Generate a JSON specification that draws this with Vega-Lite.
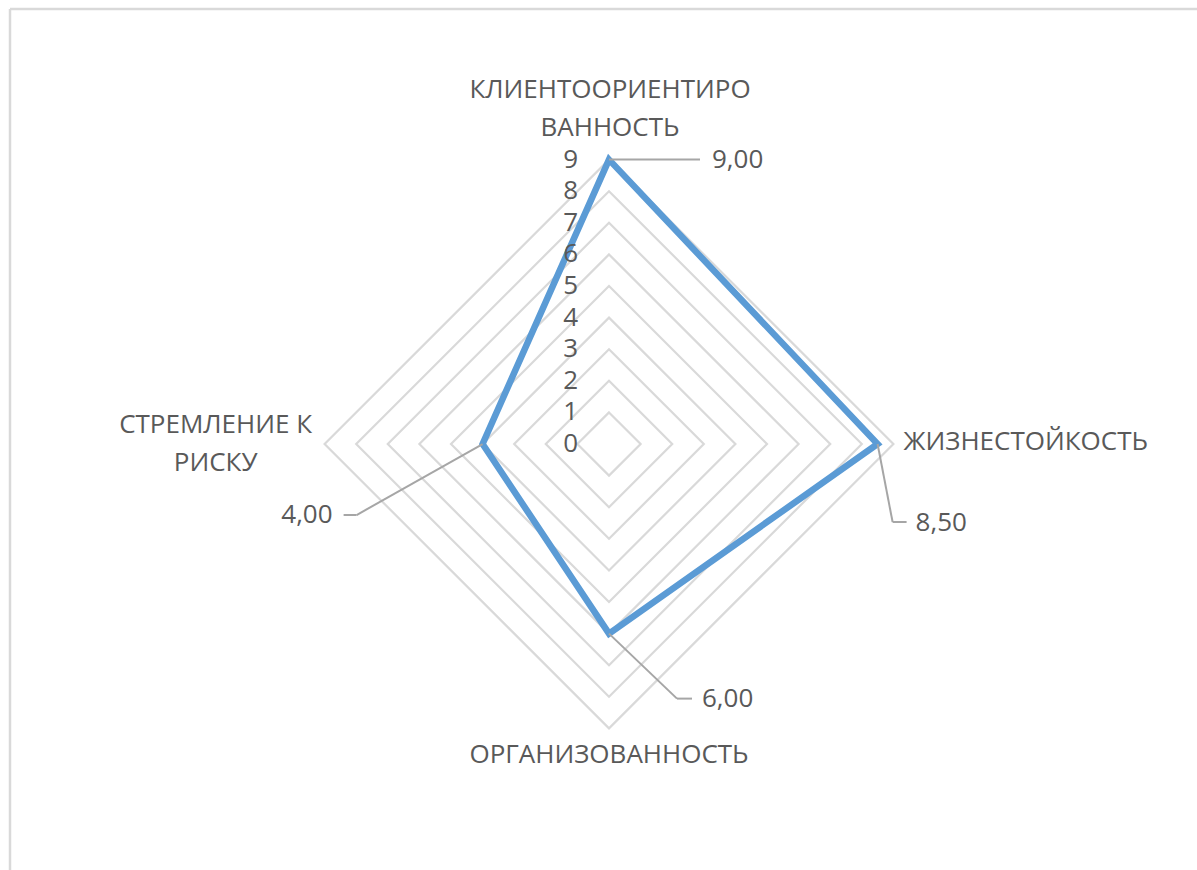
{
  "$schema": "https://vega.github.io/schema/vega-lite/v6.json",
  "width": 1187.5,
  "height": 861.5,
  "padding": {"left": 9.5, "top": 8.5, "right": 0, "bottom": 0},
  "autosize": {"type": "none"},
  "background": "white",
  "config": {
    "view": {"stroke": null},
    "text": {"font": "Open Sans", "fontSize": 26, "color": "#595959", "baseline": "middle"}
  },
  "datasets": {
    "scores": [
      {"cat": "КЛИЕНТООРИЕНТИРОВАННОСТЬ", "order": 0, "value": 9},
      {"cat": "ЖИЗНЕСТОЙКОСТЬ", "order": 1, "value": 8.5},
      {"cat": "ОРГАНИЗОВАННОСТЬ", "order": 2, "value": 6},
      {"cat": "СТРЕМЛЕНИЕ К РИСКУ", "order": 3, "value": 4}
    ],
    "grid": [
      {"level": 1, "k": 0}, {"level": 1, "k": 1}, {"level": 1, "k": 2}, {"level": 1, "k": 3},
      {"level": 2, "k": 0}, {"level": 2, "k": 1}, {"level": 2, "k": 2}, {"level": 2, "k": 3},
      {"level": 3, "k": 0}, {"level": 3, "k": 1}, {"level": 3, "k": 2}, {"level": 3, "k": 3},
      {"level": 4, "k": 0}, {"level": 4, "k": 1}, {"level": 4, "k": 2}, {"level": 4, "k": 3},
      {"level": 5, "k": 0}, {"level": 5, "k": 1}, {"level": 5, "k": 2}, {"level": 5, "k": 3},
      {"level": 6, "k": 0}, {"level": 6, "k": 1}, {"level": 6, "k": 2}, {"level": 6, "k": 3},
      {"level": 7, "k": 0}, {"level": 7, "k": 1}, {"level": 7, "k": 2}, {"level": 7, "k": 3},
      {"level": 8, "k": 0}, {"level": 8, "k": 1}, {"level": 8, "k": 2}, {"level": 8, "k": 3},
      {"level": 9, "k": 0}, {"level": 9, "k": 1}, {"level": 9, "k": 2}, {"level": 9, "k": 3}
    ],
    "ticks": [
      {"tick": 0}, {"tick": 1}, {"tick": 2}, {"tick": 3}, {"tick": 4},
      {"tick": 5}, {"tick": 6}, {"tick": 7}, {"tick": 8}, {"tick": 9}
    ]
  },
  "encoding": {
    "x": {
      "field": "px", "type": "quantitative",
      "scale": {"domain": [-18.972, 18.608], "nice": false, "zero": false},
      "axis": {"orient": "top", "title": null, "labels": false, "ticks": false, "grid": false, "domainColor": "#d9d9d9", "domainWidth": 2.5}
    },
    "y": {
      "field": "py", "type": "quantitative",
      "scale": {"domain": [-13.481, 13.782], "nice": false, "zero": false},
      "axis": {"orient": "left", "title": null, "labels": false, "ticks": false, "grid": false, "domainColor": "#d9d9d9", "domainWidth": 2.5}
    }
  },
  "layer": [
    {
      "data": {"name": "grid"},
      "transform": [
        {"calculate": "datum.k==1?datum.level:datum.k==3?-datum.level:0", "as": "px"},
        {"calculate": "datum.k==0?datum.level:datum.k==2?-datum.level:0", "as": "py"}
      ],
      "mark": {"type": "line", "interpolate": "linear-closed", "color": "#d9d9d9", "strokeWidth": 2.2},
      "encoding": {"detail": {"field": "level"}, "order": {"field": "k"}}
    },
    {
      "data": {"name": "scores"},
      "transform": [
        {"calculate": "datum.order==1?datum.value:datum.order==3?-datum.value:0", "as": "px"},
        {"calculate": "datum.order==0?datum.value:datum.order==2?-datum.value:0", "as": "py"}
      ],
      "mark": {"type": "line", "interpolate": "linear-closed", "color": "#5b9bd5", "strokeWidth": 6.5},
      "encoding": {"order": {"field": "order"}}
    },
    {
      "data": {"name": "ticks"},
      "transform": [
        {"calculate": "0", "as": "px"},
        {"calculate": "datum.tick", "as": "py"}
      ],
      "mark": {"type": "text", "align": "right", "dx": -31},
      "encoding": {"text": {"field": "tick"}}
    },
    {
      "data": {"name": "scores"},
      "transform": [
        {"filter": "datum.order==0"},
        {"calculate": "0", "as": "px"},
        {"calculate": "datum.value", "as": "py"},
        {"calculate": "replace(format(datum.value,'.2f'),'.',',')", "as": "lbl"}
      ],
      "layer": [
        {"mark": {"type": "rule", "color": "#a6a6a6", "strokeWidth": 2, "x2Offset": 91, "y2Offset": 0}, "encoding": {"x2": {"field": "px"}, "y2": {"field": "py"}}},
        {"mark": {"type": "text", "align": "left", "dx": 103, "dy": 0}, "encoding": {"text": {"field": "lbl"}}},
        {"mark": {"type": "text", "align": "center", "dx": 1, "dy": -70, "lineHeight": 38, "text": ["КЛИЕНТООРИЕНТИРО", "ВАННОСТЬ"]}}
      ]
    },
    {
      "data": {"name": "scores"},
      "transform": [
        {"filter": "datum.order==1"},
        {"calculate": "datum.value", "as": "px"},
        {"calculate": "0", "as": "py"},
        {"calculate": "replace(format(datum.value,'.2f'),'.',',')", "as": "lbl"}
      ],
      "layer": [
        {"mark": {"type": "rule", "color": "#a6a6a6", "strokeWidth": 2, "x2Offset": 15, "y2Offset": 78}, "encoding": {"x2": {"field": "px"}, "y2": {"field": "py"}}},
        {"mark": {"type": "rule", "color": "#a6a6a6", "strokeWidth": 2, "xOffset": 15, "yOffset": 78, "x2Offset": 29, "y2Offset": 78}, "encoding": {"x2": {"field": "px"}, "y2": {"field": "py"}}},
        {"mark": {"type": "text", "align": "left", "dx": 38, "dy": 79}, "encoding": {"text": {"field": "lbl"}}},
        {"mark": {"type": "text", "align": "left", "dx": 26, "dy": -2}, "encoding": {"text": {"field": "cat"}}}
      ]
    },
    {
      "data": {"name": "scores"},
      "transform": [
        {"filter": "datum.order==2"},
        {"calculate": "0", "as": "px"},
        {"calculate": "-datum.value", "as": "py"},
        {"calculate": "replace(format(datum.value,'.2f'),'.',',')", "as": "lbl"}
      ],
      "layer": [
        {"mark": {"type": "rule", "color": "#a6a6a6", "strokeWidth": 2, "x2Offset": 68, "y2Offset": 65}, "encoding": {"x2": {"field": "px"}, "y2": {"field": "py"}}},
        {"mark": {"type": "rule", "color": "#a6a6a6", "strokeWidth": 2, "xOffset": 68, "yOffset": 65, "x2Offset": 83, "y2Offset": 65}, "encoding": {"x2": {"field": "px"}, "y2": {"field": "py"}}},
        {"mark": {"type": "text", "align": "left", "dx": 93, "dy": 65}, "encoding": {"text": {"field": "lbl"}}},
        {"mark": {"type": "text", "align": "center", "dx": 0, "dy": 121}, "encoding": {"text": {"field": "cat"}}}
      ]
    },
    {
      "data": {"name": "scores"},
      "transform": [
        {"filter": "datum.order==3"},
        {"calculate": "-datum.value", "as": "px"},
        {"calculate": "0", "as": "py"},
        {"calculate": "replace(format(datum.value,'.2f'),'.',',')", "as": "lbl"}
      ],
      "layer": [
        {"mark": {"type": "rule", "color": "#a6a6a6", "strokeWidth": 2, "x2Offset": -126, "y2Offset": 71}, "encoding": {"x2": {"field": "px"}, "y2": {"field": "py"}}},
        {"mark": {"type": "rule", "color": "#a6a6a6", "strokeWidth": 2, "xOffset": -126, "yOffset": 71, "x2Offset": -139, "y2Offset": 71}, "encoding": {"x2": {"field": "px"}, "y2": {"field": "py"}}},
        {"mark": {"type": "text", "align": "right", "dx": -150, "dy": 71}, "encoding": {"text": {"field": "lbl"}}},
        {"mark": {"type": "text", "align": "center", "dx": -267, "dy": -19, "lineHeight": 38, "text": ["СТРЕМЛЕНИЕ К", "РИСКУ"]}}
      ]
    }
  ]
}
